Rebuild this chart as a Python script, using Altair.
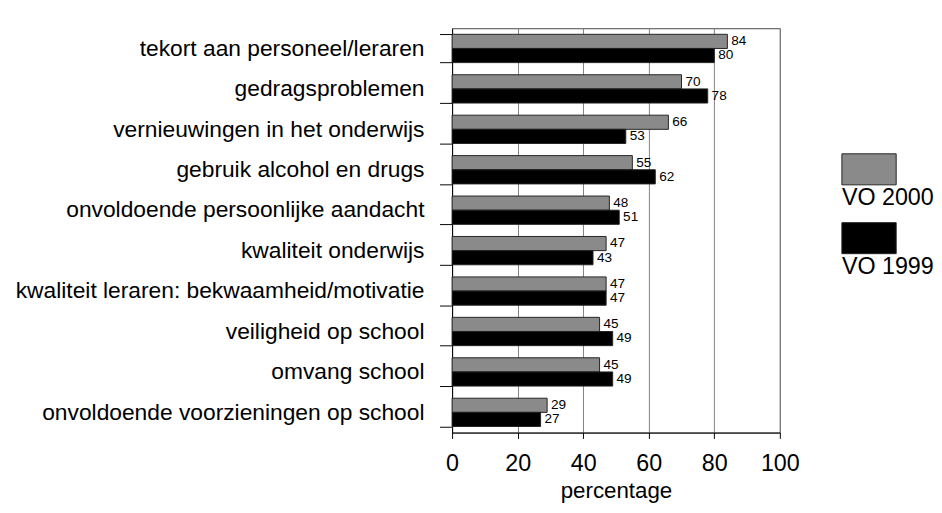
import altair as alt
import pandas as pd

categories = [
    "tekort aan personeel/leraren",
    "gedragsproblemen",
    "vernieuwingen in het onderwijs",
    "gebruik alcohol en drugs",
    "onvoldoende persoonlijke aandacht",
    "kwaliteit onderwijs",
    "kwaliteit leraren: bekwaamheid/motivatie",
    "veiligheid op school",
    "omvang school",
    "onvoldoende voorzieningen op school",
]
vo2000 = [84, 70, 66, 55, 48, 47, 47, 45, 45, 29]
vo1999 = [80, 78, 53, 62, 51, 43, 47, 49, 49, 27]
series = ["VO 2000", "VO 1999"]
colors = ["#8a8a8a", "#000000"]
x_ticks = [0, 20, 40, 60, 80, 100]

rows = []
for c, a, b in zip(categories, vo2000, vo1999):
    rows.append({"cat": c, "series": series[0], "value": a})
    rows.append({"cat": c, "series": series[1], "value": b})
df = pd.DataFrame(rows)

base = alt.Chart(df).encode(
    y=alt.Y(
        "cat:N",
        sort=categories,
        scale=alt.Scale(paddingInner=0.3, paddingOuter=0.15),
        axis=alt.Axis(
            title=None,
            labelFontSize=23.5,
            labelPadding=16,
            tickSize=13,
            tickBand="extent",
            domainColor="black",
            tickColor="black",
            labelColor="black",
            grid=False,
            labelLimit=700,
        ),
    ),
    yOffset=alt.YOffset("series:N", sort=series, scale=alt.Scale(paddingInner=0, paddingOuter=0)),
)

bars = base.mark_bar(stroke="#222222", strokeWidth=1).encode(
    x=alt.X(
        "value:Q",
        scale=alt.Scale(domain=[0, 100]),
        axis=alt.Axis(
            values=x_ticks,
            title="percentage",
            titleFontSize=23,
            titleFontWeight="normal",
            titleColor="black",
            titlePadding=5,
            labelFontSize=24,
            labelColor="black",
            labelPadding=14,
            tickSize=6,
            tickColor="black",
            domainColor="black",
            grid=True,
            gridColor="#808080",
            labelFlush=False,
        ),
    ),
    color=alt.Color("series:N", scale=alt.Scale(domain=series, range=colors), legend=None),
)

labels = base.mark_text(align="left", baseline="middle", dx=4, dy=0, fontSize=14, color="black").encode(
    x="value:Q",
    text="value:Q",
)

main = alt.layer(bars, labels).properties(
    width=338, height=417, view=alt.ViewBackground(stroke="#444444")
)

leg_df = pd.DataFrame({"series": series})
leg_base = alt.Chart(leg_df).encode(
    y=alt.Y(
        "series:N",
        sort=series,
        scale=alt.Scale(paddingInner=0, paddingOuter=0, range=[110, 252]),
        axis=None,
    )
)
leg_rect = leg_base.mark_rect(height=32, stroke="#222222", strokeWidth=1).encode(
    color=alt.Color("series:N", scale=alt.Scale(domain=series, range=colors), legend=None)
)
leg_text = leg_base.mark_text(align="left", baseline="middle", dy=30, fontSize=24, color="black").encode(
    x=alt.value(0),
    text="series:N",
)
legend = alt.layer(leg_rect, leg_text).properties(
    width=56, height=417, view=alt.ViewBackground(stroke=None)
)

chart = (
    alt.hconcat(main, legend, spacing=42)
    .properties(padding={"left": 6, "top": 0, "right": 0, "bottom": 0})
    .configure(font="Liberation Sans")
)

chart.save("out.html", embed_options={"renderer": "svg", "actions": False})
